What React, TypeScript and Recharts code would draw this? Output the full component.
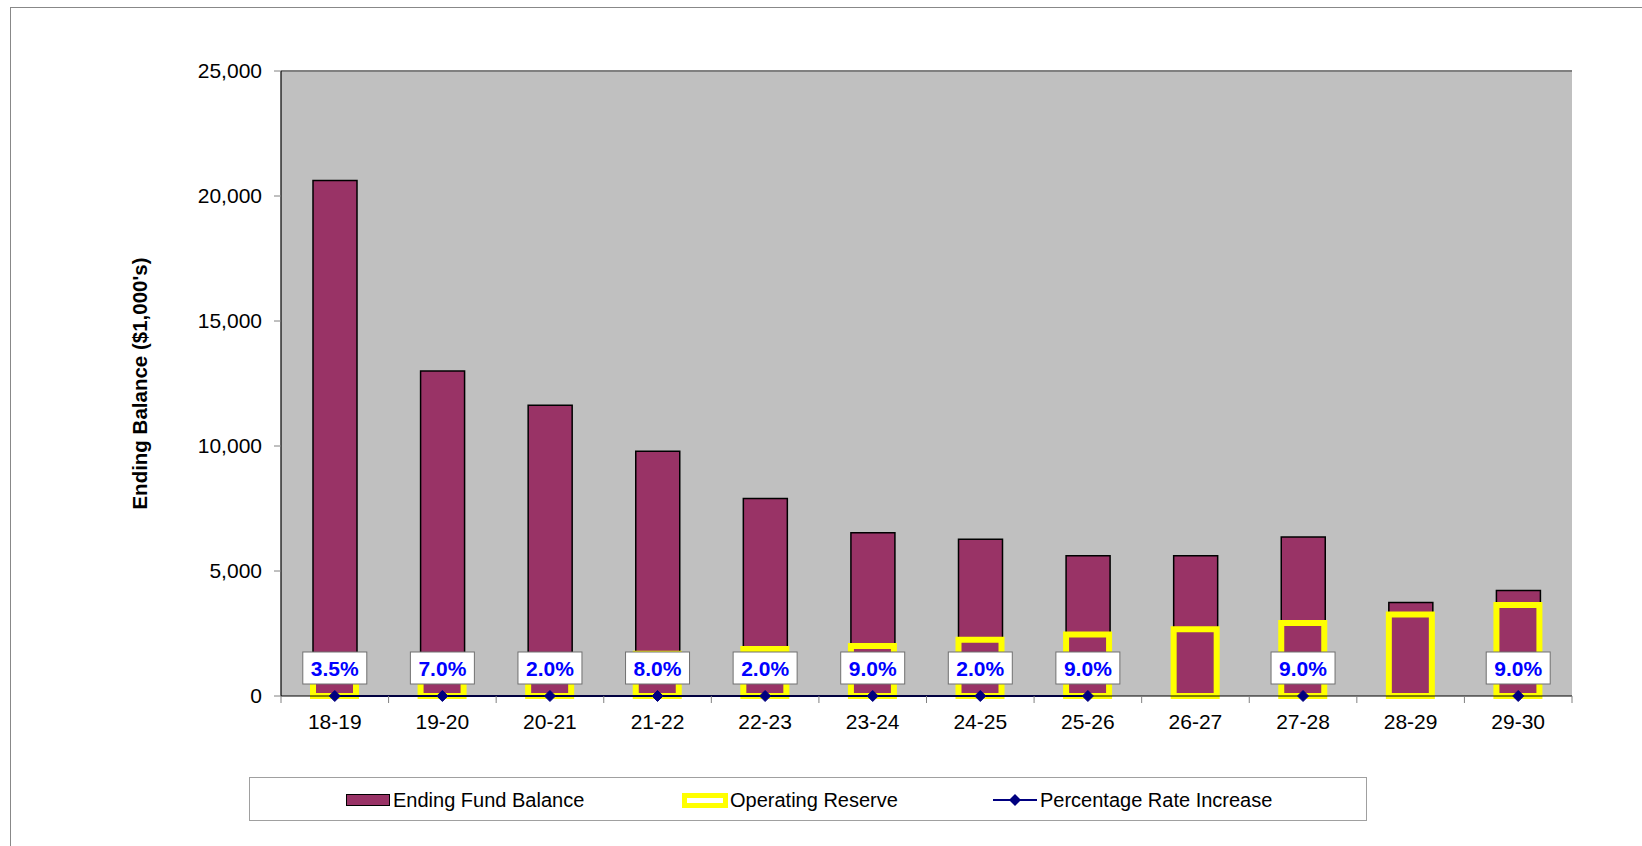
import React from "react";
import {
  ComposedChart,
  Bar,
  Line,
  XAxis,
  YAxis,
  CartesianGrid,
  ReferenceLine,
  LabelList,
  Label,
} from "recharts";

const years = ["18-19", "19-20", "20-21", "21-22", "22-23", "23-24", "24-25", "25-26", "26-27", "27-28", "28-29", "29-30"];
const endingFundBalance = [20620, 13000, 11630, 9790, 7900, 6530, 6270, 5610, 5610, 6360, 3740, 4220];
const operatingReserve = [1400, 1500, 1600, 1690, 1880, 2000, 2250, 2460, 2670, 2920, 3260, 3640];
const rateIncrease = [0.035, 0.07, 0.02, 0.08, 0.02, 0.09, 0.02, 0.09, null, 0.09, null, 0.09];
const yTicks = [0, 5000, 10000, 15000, 20000, 25000];

const data = years.map((year, i) => ({
  year,
  balance: endingFundBalance[i],
  reserve: operatingReserve[i],
  rate: rateIncrease[i],
}));

const FONT = "'Liberation Sans', Arial, sans-serif";
const W = 1642;
const H = 846;
const margin = { top: 71, right: 70, bottom: 110, left: 200 };
const yAxisWidth = 81;
const plotWidth = W - margin.left - margin.right - yAxisWidth;
const band = plotWidth / years.length;

const fmt = (v: number) => v.toLocaleString("en-US");

function XTick(props: any) {
  const { x, y, payload, index } = props;
  return (
    <g>
      <line x1={x - band / 2} x2={x - band / 2} y1={y - 7} y2={y} stroke="#808080" />
      {index === years.length - 1 && (
        <line x1={x + band / 2} x2={x + band / 2} y1={y - 7} y2={y} stroke="#808080" />
      )}
      <text x={x} y={y + 26} textAnchor="middle" fontSize={21} fontFamily={FONT} fill="#000">
        {payload.value}
      </text>
    </g>
  );
}

function Diamond(props: any) {
  const { cx, cy, value } = props;
  if (value == null || cx == null) return null;
  const s = 5.5;
  return (
    <path
      d={`M${cx},${cy - s} L${cx + s},${cy} L${cx},${cy + s} L${cx - s},${cy} Z`}
      fill="#000080"
      stroke="#000080"
    />
  );
}

function RateLabel(props: any) {
  const { x, y, value } = props;
  if (value == null) return null;
  return (
    <g>
      <rect x={x - 32} y={y - 44} width={64} height={32} fill="#fff" stroke="#707070" strokeWidth={1} />
      <text
        x={x}
        y={y - 27}
        textAnchor="middle"
        dominantBaseline="central"
        fontSize={21}
        fontWeight="bold"
        fontFamily={FONT}
        fill="#0000FF"
      >
        {(value * 100).toFixed(1) + "%"}
      </text>
    </g>
  );
}

function YTitle(props: any) {
  const { viewBox } = props;
  const cx = 139;
  const cy = viewBox.y + viewBox.height / 2;
  return (
    <text
      x={cx}
      y={cy}
      transform={`rotate(-90, ${cx}, ${cy})`}
      textAnchor="middle"
      dominantBaseline="central"
      fontSize={20.5}
      fontWeight="bold"
      fontFamily={FONT}
      fill="#000"
    >
      Ending Balance ($1,000's)
    </text>
  );
}

export default function App() {
  return (
    <div
      style={{
        position: "absolute",
        left: 0,
        top: 0,
        width: W,
        height: H,
        overflow: "hidden",
        background: "#fff",
        fontFamily: FONT,
      }}
    >
      <div
        style={{
          position: "absolute",
          left: 10,
          top: 7,
          width: W - 10,
          height: H - 7,
          borderLeft: "1px solid #888",
          borderTop: "1px solid #888",
          boxSizing: "border-box",
        }}
      />
      <div style={{ position: "absolute", left: 0, top: 0 }}>
        <ComposedChart width={W} height={H} data={data} margin={margin}>
          <CartesianGrid horizontal={false} vertical={false} fill="#C0C0C0" />
          <XAxis
            xAxisId="0"
            dataKey="year"
            interval={0}
            tickSize={7}
            tickMargin={0}
            tickLine={false}
            axisLine={{ stroke: "#000", strokeWidth: 1.2 }}
            tick={<XTick />}
            height={40}
          />
          <XAxis xAxisId="1" dataKey="year" hide />
          <YAxis
            yAxisId="l"
            width={yAxisWidth}
            domain={[0, 25000]}
            ticks={yTicks}
            tickFormatter={fmt}
            tickSize={7}
            tickMargin={12}
            tickLine={{ stroke: "#808080" }}
            axisLine={{ stroke: "#000", strokeWidth: 1.2 }}
            tick={{ fontSize: 21, fill: "#000", fontFamily: FONT }}
            interval={0}
          >
            <Label content={<YTitle />} />
          </YAxis>
          <YAxis
            yAxisId="r"
            orientation="right"
            width={0}
            domain={[0, 25000]}
            tick={false}
            tickLine={false}
            axisLine={{ stroke: "#808080", strokeWidth: 2 }}
          />
          <ReferenceLine yAxisId="l" xAxisId="0" y={25000} stroke="#808080" strokeWidth={2} />
          <Bar
            xAxisId="0"
            yAxisId="l"
            dataKey="balance"
            fill="#993366"
            stroke="#000"
            strokeWidth={1.5}
            barSize={44}
            isAnimationActive={false}
          />
          <Bar
            xAxisId="1"
            yAxisId="l"
            dataKey="reserve"
            fill="none"
            stroke="#FFFF00"
            strokeWidth={6}
            barSize={43}
            isAnimationActive={false}
          />
          <Line
            xAxisId="0"
            yAxisId="l"
            type="linear"
            dataKey="rate"
            stroke="#000080"
            strokeWidth={2}
            dot={<Diamond />}
            activeDot={false}
            connectNulls={false}
            isAnimationActive={false}
          >
            <LabelList dataKey="rate" content={<RateLabel />} />
          </Line>
        </ComposedChart>
      </div>

      {/* legend */}
      <div
        style={{
          position: "absolute",
          left: 249,
          top: 777,
          width: 1118,
          height: 44,
          border: "1px solid #a0a0a0",
          boxSizing: "border-box",
          background: "#fff",
        }}
      />
      <div
        style={{
          position: "absolute",
          left: 346,
          top: 794,
          width: 44,
          height: 12,
          background: "#993366",
          border: "1.5px solid #000",
          boxSizing: "border-box",
        }}
      />
      <div style={{ position: "absolute", left: 393, top: 788, height: 24, lineHeight: "24px", fontSize: 20, color: "#000" }}>
        Ending Fund Balance
      </div>
      <div
        style={{
          position: "absolute",
          left: 682,
          top: 793,
          width: 46,
          height: 15,
          background: "#fff",
          border: "5px solid #FFFF00",
          boxSizing: "border-box",
        }}
      />
      <div style={{ position: "absolute", left: 730, top: 788, height: 24, lineHeight: "24px", fontSize: 20, color: "#000" }}>
        Operating Reserve
      </div>
      <svg style={{ position: "absolute", left: 993, top: 792 }} width={44} height={16}>
        <line x1={0} x2={44} y1={8} y2={8} stroke="#000080" strokeWidth={2} />
        <path d="M22,2 L28,8 L22,14 L16,8 Z" fill="#000080" />
      </svg>
      <div style={{ position: "absolute", left: 1040, top: 788, height: 24, lineHeight: "24px", fontSize: 20, color: "#000" }}>
        Percentage Rate Increase
      </div>
    </div>
  );
}
